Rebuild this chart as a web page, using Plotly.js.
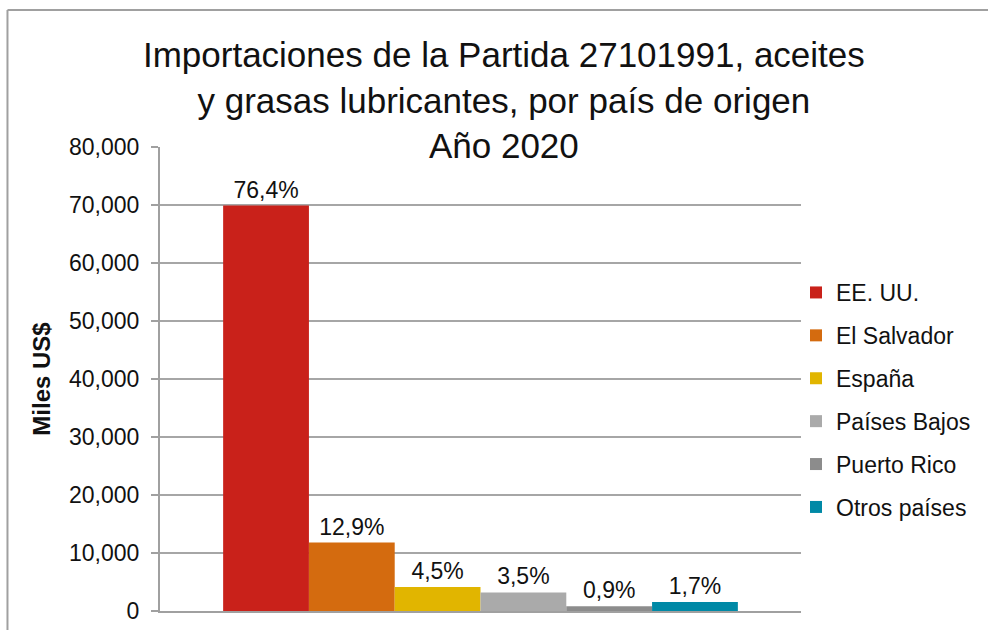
<!DOCTYPE html>
<html>
<head>
<meta charset="utf-8">
<script src="https://cdn.plot.ly/plotly-3.0.1.min.js"></script>
<style>html,body{margin:0;padding:0;background:#fff;}#chart{width:988px;height:630px;}</style>
</head>
<body>
<div id="chart"></div>
<script>
const categories = ["2020"];
const countries = ["EE. UU.", "El Salvador", "España", "Países Bajos", "Puerto Rico", "Otros países"];
const values = [69900, 11800, 4120, 3200, 824, 1555];
const shares = ["76,4%", "12,9%", "4,5%", "3,5%", "0,9%", "1,7%"];
const colors = ["#C9211A", "#D46B0F", "#E1B500", "#AAAAAA", "#8C8C8C", "#0089A6"];

const FONT = "Liberation Sans, Arial, sans-serif";
const traces = countries.map((c, i) => ({
  type: "bar",
  name: c,
  x: categories,
  y: [values[i]],
  text: [shares[i]],
  textposition: "outside",
  textfont: {family: FONT, size: 23, color: "#111"},
  cliponaxis: false,
  marker: {color: colors[i]},
  legendgroup: "g" + i,
  hoverinfo: "name+y"
}));

const L = 160, R = 803, T = 147, B = 611, W = 988, H = 630;
const px = v => (v - L) / (R - L);
const py = v => (B - v) / (B - T);

const layout = {
  width: W, height: H,
  margin: {l: L, r: W - R, t: T, b: H - B},
  paper_bgcolor: "#fff",
  plot_bgcolor: "#fff",
  font: {family: FONT, color: "#111"},
  barmode: "group",
  bargap: 0.197,
  bargroupgap: 0,
  title: {
    text: "Importaciones de la Partida 27101991, aceites<br>y grasas lubricantes, por país de origen<br>Año 2020",
    font: {family: FONT, size: 35, color: "#111"},
    x: 0.51, xanchor: "center", xref: "container",
    y: 0.893, yanchor: "top", yref: "container"
  },
  xaxis: {
    showticklabels: false, showgrid: false, zeroline: false,
    showline: true, linecolor: "#a0a0a0", linewidth: 2, ticks: ""
  },
  yaxis: {
    range: [0, 80000], dtick: 10000, tickformat: ",d",
    showgrid: true, gridcolor: "#a6a6a6", gridwidth: 1.5,
    zeroline: false, showline: true, linecolor: "#a0a0a0", linewidth: 2,
    ticks: "outside", ticklen: 7, tickcolor: "#a0a0a0", tickwidth: 1.5,
    ticklabelstandoff: 7,
    tickfont: {family: FONT, size: 23, color: "#111"},
    title: {text: "<b>Miles US$</b>", font: {family: FONT, size: 24, color: "#111"}, standoff: 12}
  },
  legend: {
    x: px(798), xanchor: "left", y: py(400), yanchor: "middle",
    traceorder: "grouped", tracegroupgap: 10,
    font: {family: FONT, size: 23, color: "#111"},
    itemwidth: 30, bgcolor: "rgba(0,0,0,0)"
  },
  shapes: [
    {type: "line", xref: "paper", yref: "paper", x0: px(7), x1: px(995), y0: py(10), y1: py(10), line: {color: "#a0a0a0", width: 2}},
    {type: "line", xref: "paper", yref: "paper", x0: px(7), x1: px(7), y0: py(10), y1: py(640), line: {color: "#a0a0a0", width: 2}}
  ],
  showlegend: true
};

Plotly.newPlot("chart", traces, layout, {displayModeBar: false, staticPlot: true});
</script>
</body>
</html>
